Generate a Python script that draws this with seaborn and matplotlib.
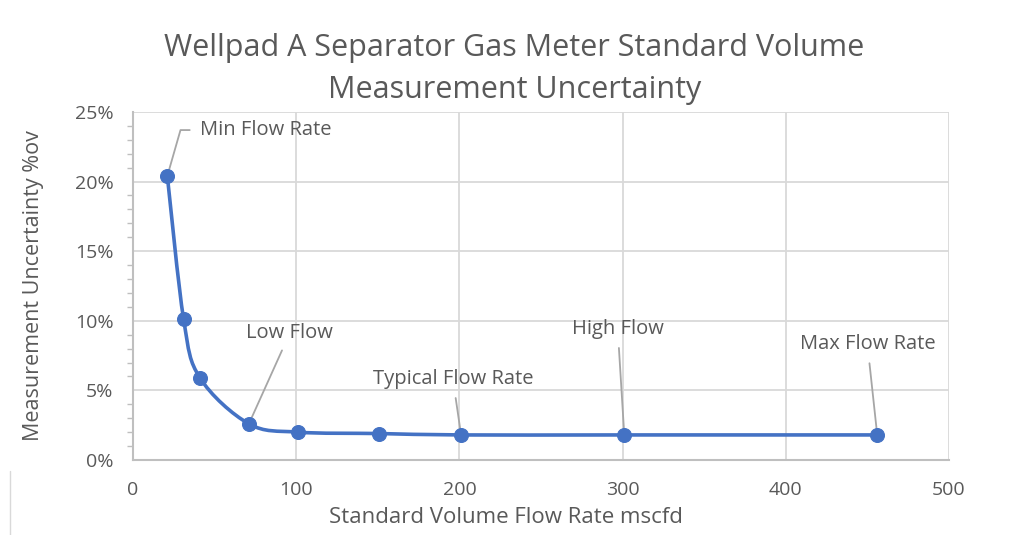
import numpy as np
import pandas as pd
import seaborn as sns
import matplotlib.pyplot as plt
from matplotlib.path import Path
from matplotlib.patches import PathPatch
from matplotlib.ticker import FuncFormatter, MultipleLocator

# values
flow_rate = [21, 31, 41, 71, 101, 151, 201, 301, 456]
uncertainty = [20.4, 10.1, 5.9, 2.6, 2.0, 1.9, 1.8, 1.8, 1.8]
labels = ["Min Flow Rate", "", "", "Low Flow", "", "", "Typical Flow Rate", "High Flow", "Max Flow Rate"]

df = pd.DataFrame({"flow": flow_rate, "unc": uncertainty})

sns.set_theme(style="white")
plt.rcParams["font.family"] = ["Open Sans", "DejaVu Sans"]
grey = "#595959"
blue = "#4472C4"

fig = plt.figure(figsize=(10.11, 5.35), dpi=100)
ax = fig.add_axes([0.1316, 0.1402, 0.8071, 0.6505])

# Excel-style smoothed line: cubic bezier through the points
pts = df[["flow", "unc"]].to_numpy(dtype=float)
verts = [pts[0]]
codes = [Path.MOVETO]
for i in range(len(pts) - 1):
    p0 = pts[i - 1] if i > 0 else pts[i]
    p1, p2 = pts[i], pts[i + 1]
    p3 = pts[i + 2] if i + 2 < len(pts) else pts[i + 1]
    verts += [p1 + (p2 - p0) / 6, p2 - (p3 - p1) / 6, p2]
    codes += [Path.CURVE4] * 3
ax.add_patch(PathPatch(Path(verts, codes), fill=False, edgecolor=blue, lw=2.6, zorder=3))

sns.scatterplot(data=df, x="flow", y="unc", ax=ax, s=100, color=blue, edgecolor=blue, zorder=4)

ax.set_xlim(0, 500)
ax.set_ylim(0, 25)
ax.set_xticks(range(0, 501, 100))
ax.set_yticks(range(0, 26, 5))
ax.yaxis.set_minor_locator(MultipleLocator(1))
ax.yaxis.set_major_formatter(FuncFormatter(lambda v, p: f"{v:.0f}%"))
ax.grid(True, color="#D9D9D9", lw=1.3)
ax.set_axisbelow(True)
for s in ["top", "right"]:
    ax.spines[s].set_visible(False)
for s in ["left", "bottom"]:
    ax.spines[s].set_color("#BFBFBF")
    ax.spines[s].set_linewidth(1.5)
ax.tick_params(axis="y", which="both", left=True, direction="out", color="#BFBFBF", length=4, width=1)
ax.tick_params(axis="y", which="major", length=0, pad=14)
ax.tick_params(axis="x", length=0, pad=15)
ax.tick_params(labelsize=14, labelcolor=grey)

ax.set_xlabel("Standard Volume Flow Rate mscfd", fontsize=16, color=grey, labelpad=3)
ax.xaxis.set_label_coords(0.457, -0.135)
ax.set_ylabel("Measurement Uncertainty %ov", fontsize=15.5, color=grey, labelpad=22)

fig.text(0.509, 0.91, "Wellpad A Separator Gas Meter Standard Volume", ha="center", va="center", fontsize=22, color=grey)
fig.text(0.509, 0.831, "Measurement Uncertainty", ha="center", va="center", fontsize=22, color=grey)

# data labels with leader lines
fs = 14.5
lead = dict(arrowstyle="-", color="#A6A6A6", lw=1.3, shrinkA=0, shrinkB=4)
ax.annotate(labels[0], xy=(flow_rate[0], uncertainty[0]), xytext=(41, 23.7), ha="left", va="center",
            fontsize=fs, color=grey,
            arrowprops=dict(lead, connectionstyle="angle,angleA=180,angleB=74", shrinkA=5))
ax.annotate(labels[3], xy=(flow_rate[3], uncertainty[3]), xytext=(96, 9.1), ha="center", va="center",
            fontsize=fs, color=grey, arrowprops=dict(lead, shrinkA=3))
ax.annotate(labels[6], xy=(flow_rate[6], uncertainty[6]), xytext=(196, 5.8), ha="center", va="center",
            fontsize=fs, color=grey, arrowprops=dict(lead, shrinkA=4))
ax.annotate(labels[7], xy=(flow_rate[7], uncertainty[7]), xytext=(297, 9.4), ha="center", va="center",
            fontsize=fs, color=grey, arrowprops=dict(lead, shrinkA=4))
ax.annotate(labels[8], xy=(flow_rate[8], uncertainty[8]), xytext=(450, 8.3), ha="center", va="center",
            fontsize=fs, color=grey, arrowprops=dict(lead, shrinkA=4))

fig.add_artist(plt.Line2D([0.0099, 0.0099], [0, 0.12], color="#D9D9D9", lw=1))

fig.savefig("out.png", dpi=100)
